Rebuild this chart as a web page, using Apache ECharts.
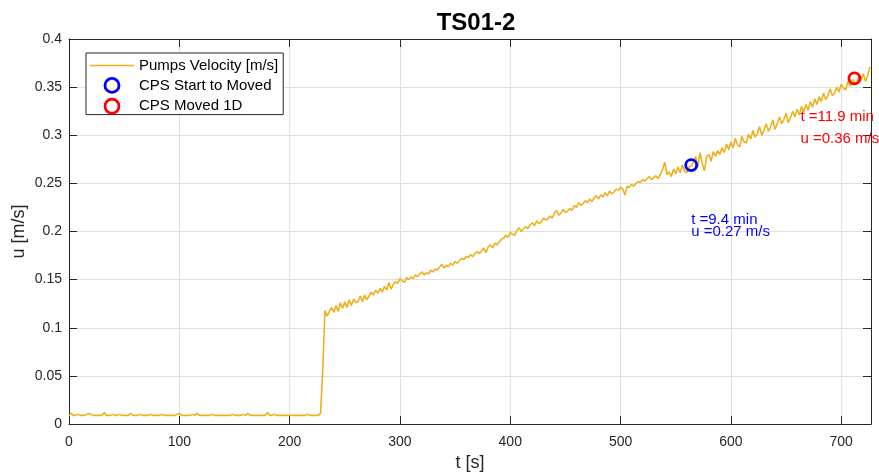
<!DOCTYPE html>
<html>
<head>
<meta charset="utf-8">
<title>TS01-2</title>
<script src="https://cdn.jsdelivr.net/npm/echarts@6/dist/echarts.min.js"></script>
<style>
  html, body { margin: 0; padding: 0; background: #fff; }
  #chart { width: 879px; height: 475px; }
</style>
</head>
<body>
<div id="chart"></div>
<script>
// pump velocity, one sample every 2 s starting at t = 0
const sampleStep = 2;
const velocity = [
  0.009, 0.011, 0.009, 0.009, 0.010, 0.009, 0.009, 0.009, 0.010, 0.011,
  0.010, 0.009, 0.009, 0.009, 0.009, 0.009, 0.012, 0.009, 0.009, 0.009,
  0.010, 0.009, 0.009, 0.010, 0.009, 0.009, 0.009, 0.009, 0.011, 0.009,
  0.009, 0.009, 0.010, 0.009, 0.009, 0.009, 0.009, 0.010, 0.009, 0.009,
  0.009, 0.009, 0.010, 0.009, 0.009, 0.009, 0.009, 0.009, 0.009, 0.010,
  0.011, 0.009, 0.009, 0.009, 0.009, 0.009, 0.010, 0.009, 0.011, 0.009,
  0.009, 0.009, 0.009, 0.009, 0.009, 0.010, 0.009, 0.009, 0.009, 0.009,
  0.009, 0.009, 0.009, 0.009, 0.010, 0.009, 0.009, 0.009, 0.009, 0.010,
  0.009, 0.011, 0.009, 0.009, 0.009, 0.009, 0.009, 0.009, 0.009, 0.009,
  0.012, 0.009, 0.009, 0.010, 0.009, 0.009, 0.009, 0.009, 0.009, 0.009,
  0.009, 0.009, 0.009, 0.009, 0.009, 0.009, 0.009, 0.009, 0.010, 0.009,
  0.009, 0.009, 0.009, 0.009, 0.011,
  0.055, 0.118,
  0.112, 0.117, 0.121, 0.116, 0.123, 0.117, 0.126, 0.120, 0.127, 0.121,
  0.129, 0.123, 0.130, 0.126, 0.127, 0.133, 0.127, 0.134, 0.129, 0.133,
  0.137, 0.134, 0.139, 0.136, 0.141, 0.137, 0.143, 0.139, 0.147, 0.140,
  0.145, 0.148, 0.146, 0.151, 0.149, 0.147, 0.152, 0.150, 0.153, 0.151,
  0.155, 0.153, 0.156, 0.158, 0.155, 0.157, 0.156, 0.160, 0.158, 0.161,
  0.160, 0.163, 0.166, 0.162, 0.165, 0.164, 0.167, 0.165, 0.169, 0.167,
  0.170, 0.172, 0.171, 0.174, 0.173, 0.176, 0.174, 0.177, 0.179, 0.177,
  0.180, 0.183, 0.178, 0.184, 0.186, 0.183, 0.188, 0.186, 0.189, 0.192,
  0.193, 0.196, 0.194, 0.199, 0.197, 0.196, 0.201, 0.204, 0.200, 0.203,
  0.205, 0.203, 0.207, 0.209, 0.206, 0.211, 0.208, 0.210, 0.214, 0.212,
  0.213, 0.216, 0.214, 0.219, 0.222, 0.217, 0.219, 0.223, 0.220, 0.221,
  0.224, 0.222, 0.227, 0.225, 0.230, 0.227, 0.229, 0.232, 0.230, 0.234,
  0.231, 0.235, 0.237, 0.234, 0.238, 0.236, 0.240, 0.237, 0.242, 0.239,
  0.241, 0.244, 0.243, 0.246, 0.244, 0.238, 0.247, 0.246, 0.249, 0.247,
  0.250, 0.252, 0.251, 0.254, 0.252, 0.255, 0.257, 0.254, 0.256, 0.258,
  0.255, 0.259, 0.264, 0.272, 0.259, 0.262, 0.257, 0.265, 0.260, 0.267,
  0.261, 0.269, 0.263, 0.261, 0.267, 0.268, 0.272, 0.278, 0.267, 0.282,
  0.271, 0.263, 0.278, 0.280, 0.273, 0.283, 0.278, 0.284, 0.280, 0.287,
  0.282, 0.291, 0.285, 0.293, 0.287, 0.297, 0.290, 0.288, 0.299, 0.293,
  0.292, 0.301, 0.296, 0.305, 0.298, 0.302, 0.309, 0.300, 0.305, 0.312,
  0.304, 0.309, 0.316, 0.306, 0.312, 0.319, 0.312, 0.316, 0.323, 0.313,
  0.318, 0.325, 0.319, 0.327, 0.321, 0.330, 0.324, 0.332, 0.326, 0.335,
  0.329, 0.338, 0.332, 0.340, 0.335, 0.344, 0.337, 0.341, 0.348, 0.341,
  0.344, 0.350, 0.345, 0.353, 0.349, 0.347, 0.356, 0.351, 0.358, 0.355,
  0.354, 0.361, 0.357, 0.364, 0.356, 0.362, 0.371,
];

const cpsStartT = [564];
const cpsStartU = [0.269];
const cpsMovedT = [712];
const cpsMovedU = [0.359];

const startNoteT = [564, 564];
const startNoteU = [0.2121, 0.1992];
const startNoteText = ["t =9.4 min", "u =0.27 m/s"];
const movedNoteT = [663, 663];
const movedNoteU = [0.3194, 0.2964];
const movedNoteText = ["t =11.9 min", "u =0.36 m/s"];

const xMin = 0, xMax = 727;
const xTicks = [0, 100, 200, 300, 400, 500, 600, 700];
const yMin = 0, yMax = 0.4, yStep = 0.05;

const axisColor = "#262626";
const font = "Liberation Sans";

const chart = echarts.init(document.getElementById("chart"), null, { renderer: "canvas" });

const pairs = (xs, ys, extra) => xs.map((x, i) => (extra ? [x, ys[i], extra[i]] : [x, ys[i]]));

const boxAxis = {
  axisLine: { show: true, onZero: false, lineStyle: { color: axisColor, width: 1 } },
  axisLabel: { show: false },
  splitLine: { show: false },
};

const noteSeries = (name, data, color) => ({
  name,
  type: "scatter",
  data,
  symbolSize: 0,
  silent: true,
  itemStyle: { opacity: 1 },
  label: {
    show: true,
    position: "right",
    distance: 0,
    formatter: (p) => p.value[2],
    color,
    fontSize: 15,
    fontFamily: font,
  },
  z: 5,
});

const option = {
  backgroundColor: "#fff",
  animation: false,
  title: {
    text: "TS01-2",
    left: 471,
    top: 6,
    textAlign: "center",
    textStyle: { fontSize: 24, fontWeight: "bold", color: "#000", fontFamily: font },
  },
  grid: { left: 69, right: 8, top: 39, bottom: 51, outerBoundsMode: "none", containLabel: false },
  legend: {
    data: [
      { name: "Pumps Velocity [m/s]", icon: "path://M0 0H44V1.5H0Z" },
      { name: "CPS Start to Moved", itemStyle: { borderWidth: 2.8 } },
      { name: "CPS Moved 1D", itemStyle: { borderWidth: 2.8 } },
    ],
    orient: "vertical",
    left: 86,
    top: 53,
    padding: [5, 5, 0, 4],
    itemWidth: 44,
    itemHeight: 14,
    itemGap: 4,
    backgroundColor: "#fff",
    borderColor: axisColor,
    borderWidth: 1,
    borderRadius: 0,
    textStyle: { fontSize: 15, color: "#000", fontFamily: font },
  },
  xAxis: [
    {
      type: "value",
      min: xMin,
      max: xMax,
      name: "t [s]",
      nameLocation: "middle",
      nameGap: 30,
      nameMoveOverlap: false,
      nameTextStyle: { fontSize: 18, color: axisColor, fontFamily: font },
      axisLine: { show: true, onZero: false, lineStyle: { color: axisColor, width: 1 } },
      axisTick: { show: true, inside: true, length: 8, customValues: xTicks, lineStyle: { color: axisColor } },
      axisLabel: { fontSize: 14, color: axisColor, margin: 11, fontFamily: font, customValues: xTicks },
      splitLine: { show: true, lineStyle: { color: "#dfdfdf", width: 1 } },
    },
    Object.assign({
      type: "value", position: "top", min: xMin, max: xMax,
      axisTick: { show: true, inside: true, length: 8, customValues: xTicks, lineStyle: { color: axisColor } },
    }, boxAxis),
  ],
  yAxis: [
    {
      type: "value",
      min: yMin,
      max: yMax,
      interval: yStep,
      name: "u [m/s]",
      nameLocation: "middle",
      nameGap: 41,
      nameMoveOverlap: false,
      nameTextStyle: { fontSize: 18, color: axisColor, fontFamily: font },
      axisLine: { show: true, onZero: false, lineStyle: { color: axisColor, width: 1 } },
      axisTick: { show: true, inside: true, length: 8, lineStyle: { color: axisColor } },
      axisLabel: { fontSize: 14, color: axisColor, margin: 7, fontFamily: font },
      splitLine: { show: true, lineStyle: { color: "#dfdfdf", width: 1 } },
    },
    Object.assign({
      type: "value", position: "right", min: yMin, max: yMax, interval: yStep,
      axisTick: { show: true, inside: true, length: 8, lineStyle: { color: axisColor } },
    }, boxAxis),
  ],
  series: [
    {
      name: "Pumps Velocity [m/s]",
      type: "line",
      data: velocity.map((u, i) => [i * sampleStep, u]),
      symbol: "none",
      lineStyle: { color: "#EDB120", width: 1.6 },
      itemStyle: { color: "#EDB120" },
      z: 2,
    },
    {
      name: "CPS Start to Moved",
      type: "scatter",
      data: pairs(cpsStartT, cpsStartU),
      symbol: "circle",
      symbolSize: 11,
      itemStyle: { color: "rgba(255,255,255,0)", borderColor: "#0000ff", borderWidth: 2.8, opacity: 1 },
      z: 4,
    },
    {
      name: "CPS Moved 1D",
      type: "scatter",
      data: pairs(cpsMovedT, cpsMovedU),
      symbol: "circle",
      symbolSize: 11,
      itemStyle: { color: "rgba(255,255,255,0)", borderColor: "#ff0000", borderWidth: 2.8, opacity: 1 },
      z: 4,
    },
    noteSeries("startNote", pairs(startNoteT, startNoteU, startNoteText), "#0000ff"),
    noteSeries("movedNote", pairs(movedNoteT, movedNoteU, movedNoteText), "#ff0000"),
  ],
};

chart.setOption(option);
</script>
</body>
</html>
